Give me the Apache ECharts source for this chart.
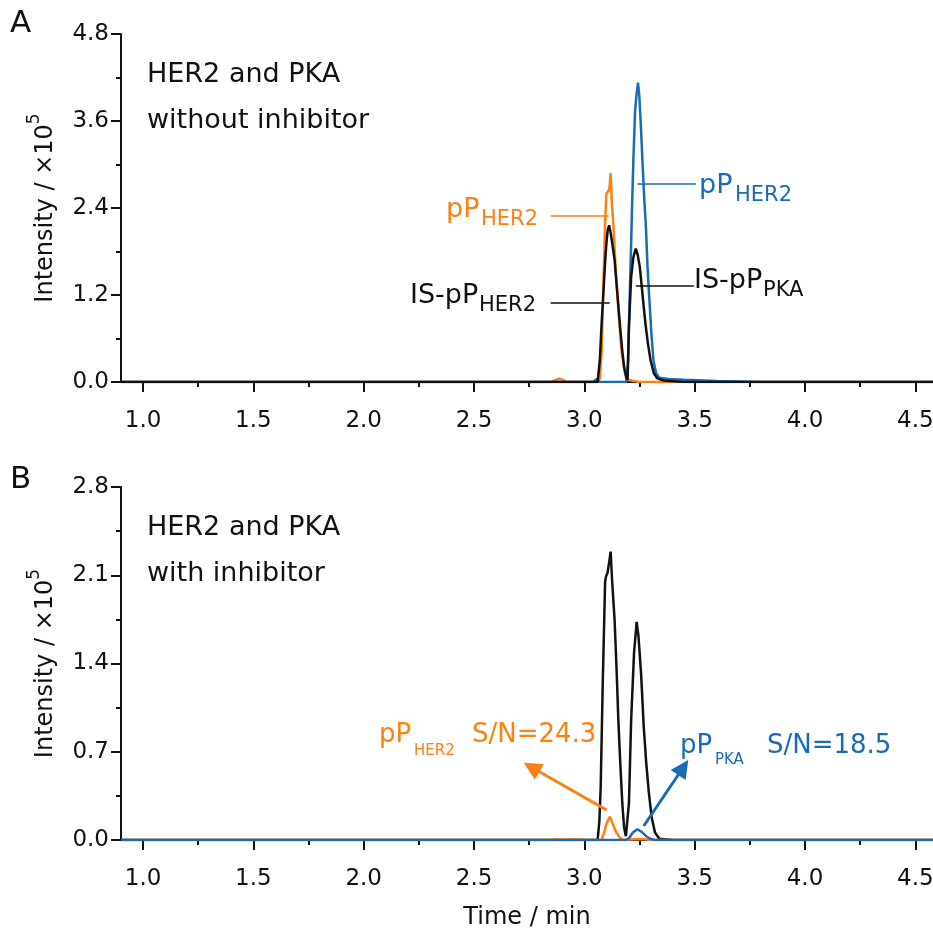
<!DOCTYPE html>
<html><head><meta charset="utf-8">
<script src="https://cdn.jsdelivr.net/npm/echarts@6/dist/echarts.min.js"></script>
<style>html,body{margin:0;padding:0;background:#fff}#c{width:933px;height:930px}</style>
</head><body><div id="c"></div>
<script>
// ---------- axis ticks ----------
const xTicks = [1.0, 1.5, 2.0, 2.5, 3.0, 3.5, 4.0, 4.5];
const xMinorTicks = [1.25, 1.75, 2.25, 2.75, 3.25, 3.75, 4.25];
const yTicksA = [0.0, 1.2, 2.4, 3.6, 4.8];
const yTicksB = [0.0, 0.7, 1.4, 2.1, 2.8];

// ---------- Panel A: without inhibitor (intensity x10^5) ----------
const timeA_orange = [0.90, 2.85, 2.87, 2.885, 2.90, 2.92, 3.06, 3.07, 3.078, 3.086, 3.094, 3.100, 3.108, 3.113, 3.119, 3.125, 3.133, 3.142, 3.155, 3.168, 3.182, 3.195, 3.25, 4.58];
const intA_orange  = [0, 0, 0.03, 0.045, 0.035, 0, 0, 0.05, 0.40, 1.30, 2.20, 2.60, 2.62, 2.65, 2.88, 2.45, 2.10, 1.55, 0.95, 0.45, 0.15, 0.03, 0, 0];

const timeA_blue = [0.90, 3.04, 3.055, 3.07, 3.19, 3.198, 3.204, 3.210, 3.216, 3.222, 3.230, 3.236, 3.243, 3.249, 3.255, 3.263, 3.271, 3.279, 3.286, 3.293, 3.303, 3.313, 3.325, 3.340, 3.380, 3.450, 3.600, 3.800, 4.58];
const intA_blue  = [0, 0, 0.04, 0, 0, 0.30, 1.00, 1.68, 2.40, 3.06, 3.75, 3.95, 4.13, 3.95, 3.60, 3.06, 2.55, 2.14, 1.60, 1.22, 0.70, 0.30, 0.12, 0.06, 0.04, 0.03, 0.015, 0, 0];

const timeA_IS = [0.90, 3.06, 3.07, 3.078, 3.086, 3.094, 3.100, 3.106, 3.112, 3.118, 3.127, 3.137, 3.150, 3.162, 3.172, 3.180, 3.190, 3.196, 3.202, 3.212, 3.222, 3.233, 3.242, 3.251, 3.258, 3.266, 3.277, 3.288, 3.300, 3.315, 3.330, 3.360, 3.450, 4.58];
const intA_IS  = [0, 0, 0.30, 0.80, 1.22, 1.65, 1.92, 2.10, 2.16, 2.08, 1.90, 1.68, 1.20, 0.76, 0.42, 0.21, 0.06, 0.03, 0.76, 1.45, 1.72, 1.84, 1.75, 1.59, 1.38, 1.13, 0.80, 0.53, 0.30, 0.12, 0.05, 0.02, 0, 0];

// ---------- Panel B: with inhibitor ----------
const timeB_IS = [0.90, 3.06, 3.068, 3.074, 3.083, 3.094, 3.098, 3.105, 3.112, 3.119, 3.126, 3.137, 3.146, 3.154, 3.163, 3.172, 3.180, 3.188, 3.194, 3.202, 3.212, 3.225, 3.237, 3.245, 3.257, 3.269, 3.280, 3.292, 3.305, 3.320, 3.340, 3.400, 4.58];
const intB_IS  = [0, 0, 0.15, 0.42, 1.22, 2.05, 2.09, 2.12, 2.20, 2.287, 2.05, 1.745, 1.35, 0.95, 0.60, 0.29, 0.10, 0.03, 0.03, 0.29, 0.95, 1.48, 1.73, 1.62, 1.32, 0.90, 0.62, 0.38, 0.18, 0.06, 0.01, 0, 0];

const timeB_orange = [0.90, 2.86, 2.87, 2.90, 2.95, 3.00, 3.078, 3.09, 3.10, 3.116, 3.13, 3.145, 3.16, 3.175, 3.22, 3.26, 3.30, 4.58];
const intB_orange  = [0, 0, 0.006, 0, 0.005, 0, 0, 0.06, 0.13, 0.185, 0.12, 0.06, 0.02, 0, 0.006, 0.008, 0, 0];

const timeB_blue = [0.90, 3.19, 3.205, 3.22, 3.24, 3.26, 3.28, 3.30, 3.32, 4.58];
const intB_blue  = [0, 0, 0.02, 0.06, 0.085, 0.065, 0.03, 0.008, 0, 0];

// ---------- annotation leader lines / arrows (data coordinates) ----------
const leaderA_orange = [[2.847, 2.30], [3.110, 2.30]];
const leaderA_blue   = [[3.241, 2.74], [3.505, 2.74]];
const leaderA_IS1    = [[2.847, 1.094], [3.115, 1.094]];
const leaderA_IS2    = [[3.233, 1.324], [3.496, 1.324]];
const arrowB_orange  = [[3.101, 0.238], [2.760, 0.577]];
const arrowB_blue    = [[3.269, 0.111], [3.448, 0.575]];

// ---------- styles ----------
const ORANGE = '#FF7F10';
const BLUE = '#1A6BB5';
const BLACK = '#111111';
const FAM = "'DejaVu Sans', sans-serif";

function pairs(t, v) { return t.map((x, i) => [x, v[i]]); }

function xAxisMain(g, withName) {
  const a = {
    type: 'value', gridIndex: g, min: 0.9, max: 4.58, position: 'bottom',
    axisLine: { show: true, onZero: false, lineStyle: { color: BLACK, width: 2 } },
    axisTick: { show: true, customValues: xTicks, length: 10, lineStyle: { color: BLACK, width: 2 } },
    axisLabel: { show: true, customValues: xTicks, formatter: v => Number(v).toFixed(1), fontSize: 23, fontFamily: FAM, color: BLACK, margin: 28 },
    splitLine: { show: false }
  };
  if (withName) {
    a.name = 'Time / min';
    a.nameLocation = 'middle';
    a.nameGap = 66;
    a.nameTextStyle = { fontSize: 24, fontFamily: FAM, color: BLACK };
  }
  return a;
}
function xAxisMinor(g) {
  return {
    type: 'value', gridIndex: g, min: 0.9, max: 4.58, position: 'bottom',
    axisLine: { show: false },
    axisTick: { show: true, customValues: xMinorTicks, length: 5, lineStyle: { color: BLACK, width: 2 } },
    axisLabel: { show: false },
    splitLine: { show: false }
  };
}
function yAxis(g, ticks) {
  return {
    type: 'value', gridIndex: g, min: ticks[0], max: ticks[ticks.length - 1], interval: ticks[1] - ticks[0],
    axisLine: { show: true, onZero: false, lineStyle: { color: BLACK, width: 2 } },
    axisTick: { show: true, length: 10, lineStyle: { color: BLACK, width: 2 } },
    minorTick: { show: true, splitNumber: 2, length: 5, lineStyle: { color: BLACK, width: 2 } },
    axisLabel: { formatter: v => Number(v).toFixed(1), fontSize: 23, fontFamily: FAM, color: BLACK, margin: 12 },
    splitLine: { show: false },
    minorSplitLine: { show: false },
    name: 'Intensity / ×10{sup|5}',
    nameLocation: 'middle',
    nameGap: 56,
    nameTextStyle: {
      fontSize: 24, fontFamily: FAM, color: BLACK,
      rich: { sup: { fontSize: 17, fontFamily: FAM, color: BLACK, padding: [0, 0, 22, 0] } }
    }
  };
}
function lineSeries(name, xi, yi, t, v, color, width, mark) {
  const s = {
    name, type: 'line', xAxisIndex: xi, yAxisIndex: yi,
    data: pairs(t, v), showSymbol: false, symbol: 'none', smooth: false,
    lineStyle: { color, width }, itemStyle: { color }, animation: false, silent: true
  };
  if (mark) s.markLine = mark;
  return s;
}
function leaders(list, color, width, arrow) {
  return {
    silent: true, animation: false,
    symbol: arrow ? ['none', 'triangle'] : ['none', 'none'],
    symbolSize: arrow ? 18 : 0,
    label: { show: false },
    emphasis: { disabled: true },
    lineStyle: { color, width, type: 'solid' },
    data: list.map(seg => [{ coord: seg[0] }, { coord: seg[1] }])
  };
}
function txt(x, y, text, size, color) {
  return { type: 'text', x, y, silent: true, z: 100,
    style: { text, fontSize: size, fontFamily: FAM, fill: color || BLACK, align: 'left', verticalAlign: 'middle' } };
}

const chart = echarts.init(document.getElementById('c'), null, { renderer: 'canvas' });
chart.setOption({
  backgroundColor: '#ffffff',
  animation: false,
  grid: [
    { left: 121, top: 34, right: 0, height: 348, outerBoundsMode: 'none' },
    { left: 121, top: 487, right: 0, height: 353, outerBoundsMode: 'none' }
  ],
  xAxis: [xAxisMain(0, false), xAxisMinor(0), xAxisMain(1, true), xAxisMinor(1)],
  yAxis: [yAxis(0, yTicksA), yAxis(1, yTicksB)],
  series: [
    lineSeries('A pP HER2', 0, 0, timeA_orange, intA_orange, ORANGE, 2.5, leaders([leaderA_orange], ORANGE, 1.5, false)),
    lineSeries('A pP HER2 blue', 0, 0, timeA_blue, intA_blue, BLUE, 2.5, leaders([leaderA_blue], BLUE, 1.5, false)),
    lineSeries('A IS', 0, 0, timeA_IS, intA_IS, BLACK, 2.5, leaders([leaderA_IS1, leaderA_IS2], BLACK, 1.5, false)),
    lineSeries('B IS', 2, 1, timeB_IS, intB_IS, BLACK, 2.5),
    lineSeries('B pP HER2', 2, 1, timeB_orange, intB_orange, ORANGE, 2.5, leaders([arrowB_orange], ORANGE, 3, true)),
    lineSeries('B pP PKA', 2, 1, timeB_blue, intB_blue, BLUE, 2.5, leaders([arrowB_blue], BLUE, 3, true))
  ],
  graphic: [
    txt(10, 24, 'A', 31),
    txt(147, 75, 'HER2 and PKA', 27),
    txt(147, 121, 'without inhibitor', 27),
    txt(446, 210, 'pP', 27, ORANGE), txt(481, 220, 'HER2', 21, ORANGE),
    txt(699, 186, 'pP', 27, BLUE), txt(735, 196, 'HER2', 21, BLUE),
    txt(410, 296, 'IS-pP', 27), txt(479, 306, 'HER2', 21),
    txt(694, 281, 'IS-pP', 27), txt(763, 291, 'PKA', 21),
    txt(10, 480, 'B', 31),
    txt(147, 528, 'HER2 and PKA', 27),
    txt(147, 574, 'with inhibitor', 27),
    txt(379, 735, 'pP', 26, ORANGE), txt(414, 751, 'HER2', 15, ORANGE), txt(472, 735, 'S/N=24.3', 26, ORANGE),
    txt(680, 746, 'pP', 26, BLUE), txt(715, 760, 'PKA', 15, BLUE), txt(767, 746, 'S/N=18.5', 26, BLUE)
  ]
});
</script>
</body></html>
